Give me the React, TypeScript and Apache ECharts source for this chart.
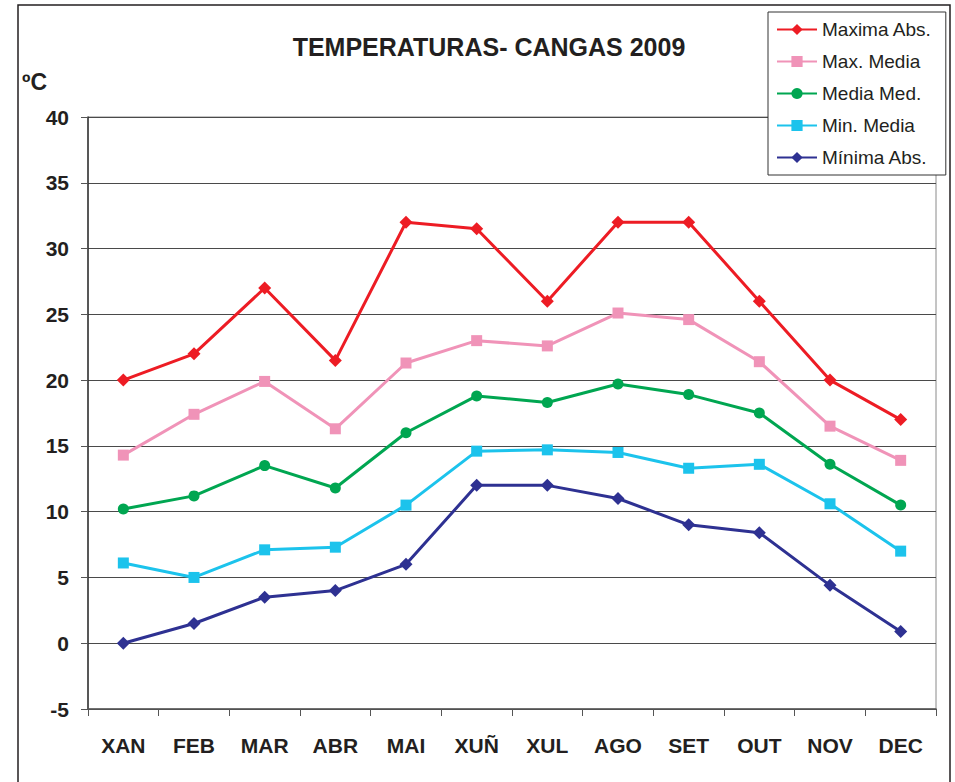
import React, { useEffect, useRef } from "react";
import * as echarts from "echarts";

const months = ["XAN", "FEB", "MAR", "ABR", "MAI", "XUÑ", "XUL", "AGO", "SET", "OUT", "NOV", "DEC"];
const maximaAbs = [20, 22, 27, 21.5, 32, 31.5, 26, 32, 32, 26, 20, 17];
const maxMedia = [14.3, 17.4, 19.9, 16.3, 21.3, 23, 22.6, 25.1, 24.6, 21.4, 16.5, 13.9];
const mediaMed = [10.2, 11.2, 13.5, 11.8, 16, 18.8, 18.3, 19.7, 18.9, 17.5, 13.6, 10.5];
const minMedia = [6.1, 5.0, 7.1, 7.3, 10.5, 14.6, 14.7, 14.5, 13.3, 13.6, 10.6, 7.0];
const minimaAbs = [0, 1.5, 3.5, 4, 6, 12, 12, 11, 9, 8.4, 4.4, 0.9];

const FONT = "'Liberation Sans', Arial, Helvetica, sans-serif";

export default function App() {
  const ref = useRef<HTMLDivElement>(null);
  useEffect(() => {
    if (!ref.current) return;
    const chart = echarts.init(ref.current, null, { renderer: "svg" });
    const mk = (name: string, data: number[], color: string, symbol: string, size: number) => ({
      name,
      type: "line",
      data,
      symbol,
      symbolSize: size,
      lineStyle: { color, width: 3 },
      itemStyle: { color },
    });
    chart.setOption({
      animation: false,
      backgroundColor: "#fff",
      textStyle: { fontFamily: FONT },
      title: {
        text: "TEMPERATURAS- CANGAS 2009",
        left: 484,
        textAlign: "center",
        top: 29,
        textStyle: { fontFamily: FONT, fontSize: 25, fontWeight: "bold", color: "#231f20" },
      },
      graphic: [
        {
          type: "rect",
          shape: { x: 18, y: 5, width: 932, height: 800 },
          style: { fill: "none", stroke: "#231f20", lineWidth: 1.5 },
          silent: true,
          z: -1,
        },
        {
          type: "text",
          left: 22,
          top: 70,
          style: { text: "ºC", font: `bold 23px ${FONT}`, fill: "#231f20" },
        },
      ],
      legend: {
        orient: "vertical",
        left: 768,
        top: 12,
        padding: [8, 14, 8, 8],
        itemWidth: 40,
        itemHeight: 14,
        itemGap: 13,
        borderColor: "#333",
        borderWidth: 1,
        backgroundColor: "#fff",
        textStyle: { fontFamily: FONT, fontSize: 19, color: "#231f20" },
        data: ["Maxima Abs.", "Max. Media", "Media Med.", "Min. Media", "Mínima Abs."],
      },
      grid: {
        left: 88,
        top: 117,
        right: 19,
        bottom: 73,
        show: true,
        borderColor: "#8a8a8a",
        borderWidth: 1,
        backgroundColor: "transparent",
      },
      xAxis: {
        type: "category",
        data: months,
        boundaryGap: true,
        axisLine: { onZero: false, lineStyle: { color: "#555", width: 1.5 } },
        axisTick: { show: true, length: 7, alignWithLabel: false, lineStyle: { color: "#555" } },
        axisLabel: { fontFamily: FONT, fontSize: 21, fontWeight: "bold", color: "#231f20", margin: 26 },
        splitLine: { show: false },
      },
      yAxis: {
        type: "value",
        min: -5,
        max: 40,
        interval: 5,
        axisLine: { show: true, lineStyle: { color: "#333", width: 1.5 } },
        axisTick: { show: true, length: 7, lineStyle: { color: "#555" } },
        axisLabel: { fontFamily: FONT, fontSize: 21, fontWeight: "bold", color: "#231f20", margin: 19 },
        splitLine: { show: true, lineStyle: { color: "#4a4a4a", width: 1 } },
      },
      series: [
        mk("Maxima Abs.", maximaAbs, "#ed1c24", "diamond", 13),
        mk("Max. Media", maxMedia, "#f093b8", "rect", 11),
        mk("Media Med.", mediaMed, "#00a651", "circle", 11),
        mk("Min. Media", minMedia, "#1cc3ec", "rect", 11),
        mk("Mínima Abs.", minimaAbs, "#2e3192", "diamond", 13),
      ],
    });
    return () => chart.dispose();
  }, []);
  return (
    <div
      ref={ref}
      style={{ position: "fixed", left: 0, top: 0, width: 955, height: 782 }}
    />
  );
}
